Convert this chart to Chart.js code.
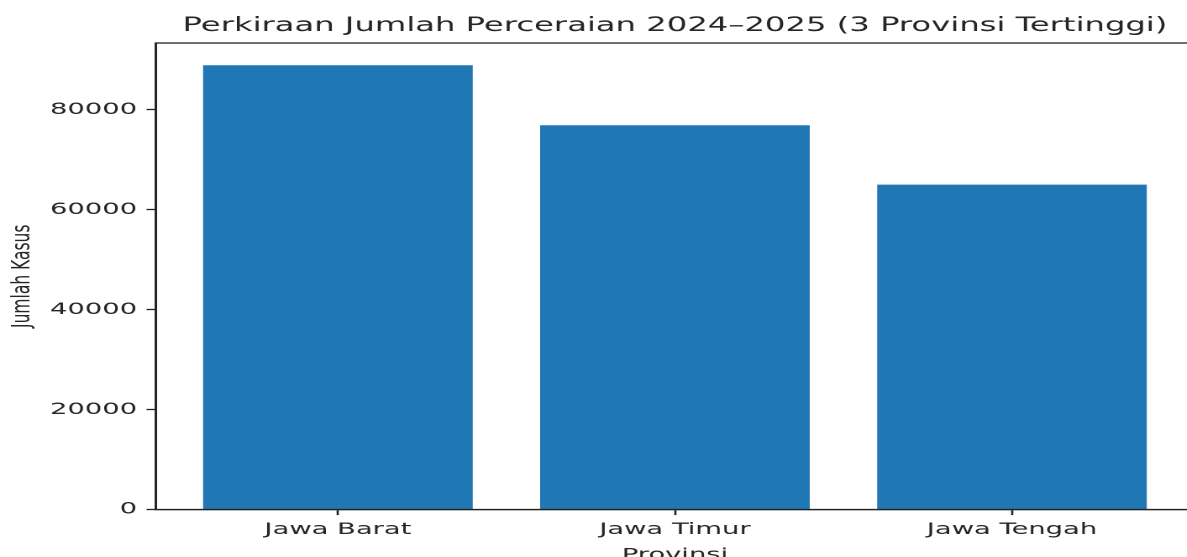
<!DOCTYPE html>
<html>
<head>
<meta charset="utf-8">
<script src="https://cdn.jsdelivr.net/npm/chart.js@4.4.1/dist/chart.umd.min.js"></script>
<style>
  html, body { margin: 0; padding: 0; background: #fff; overflow: hidden; width: 1187px; height: 557px; }
  #wrap { width: 720px; height: 557px; transform: scaleX(1.68); transform-origin: 0 0; }
  canvas { display: block; }
</style>
</head>
<body>
<div id="wrap"><canvas id="c" width="720" height="557"></canvas></div>
<script>
const categories = ["Jawa Barat", "Jawa Timur", "Jawa Tengah"];
const cases = [88900, 76900, 65000];
const yTicks = [0, 20000, 40000, 60000, 80000];
const titleText = "Perkiraan Jumlah Perceraian 2024–2025 (3 Provinsi Tertinggi)";
const xLabel = "Provinsi";
const yLabel = "Jumlah Kasus";

const FONT = "'DejaVu Sans', sans-serif";
const TXT = "#262626";

const frame = {
  id: 'frame',
  afterDatasetsDraw(chart) {
    const a = chart.chartArea, ctx = chart.ctx;
    ctx.save();
    ctx.strokeStyle = "#222";
    ctx.lineWidth = 1.3;
    ctx.strokeRect(a.left, a.top, a.right - a.left, a.bottom - a.top);
    ctx.restore();
  }
};

new Chart(document.getElementById('c'), {
  type: 'bar',
  data: {
    datasets: [{
      data: cases.map((v, i) => ({ x: i, y: v })),
      backgroundColor: '#1f77b4',
      borderWidth: 0,
      barPercentage: 0.8,
      categoryPercentage: 1.0
    }]
  },
  options: {
    responsive: false,
    animation: false,
    devicePixelRatio: 2,
    layout: { padding: { left: 0, right: 9.3, top: 0, bottom: 0 } },
    plugins: {
      legend: { display: false },
      tooltip: { enabled: false },
      title: {
        display: true,
        text: titleText,
        fullSize: false,
        color: TXT,
        font: { family: FONT, size: 19.2, weight: 'normal', lineHeight: 1.2 },
        padding: { top: 14.5, bottom: 5.5 }
      }
    },
    scales: {
      x: {
        type: 'linear',
        offset: false,
        min: -0.54,
        max: 2.54,
        afterBuildTicks: s => { s.ticks = categories.map((_, i) => ({ value: i })); },
        afterFit: s => { s.height = 47.5; },
        ticks: {
          autoSkip: false, maxRotation: 0, minRotation: 0,
          padding: 4.8, color: TXT,
          font: { family: FONT, size: 16.3 },
          callback: v => categories[v]
        },
        grid: { offset: false, drawOnChartArea: false, drawTicks: true, tickLength: 5.6, tickWidth: 1.3, tickColor: '#222' },
        border: { display: true, color: '#222', width: 1.3 },
        title: { display: true, text: xLabel, color: TXT, font: { family: FONT, size: 16.3 }, padding: { top: 0, bottom: -8 } }
      },
      y: {
        min: 0,
        max: Math.max(...cases) * 1.05,
        afterBuildTicks: s => { s.ticks = yTicks.map(v => ({ value: v })); },
        afterFit: s => { s.width = 92.8; },
        ticks: {
          padding: 5.6, color: TXT,
          font: { family: FONT, size: 16.3 },
          callback: v => String(v)
        },
        grid: { drawOnChartArea: false, drawTicks: true, tickLength: 5.6, tickWidth: 1.3, tickColor: '#222' },
        border: { display: true, color: '#222', width: 1.3 },
        title: { display: true, text: yLabel, color: TXT, font: { family: FONT, size: 15.5 }, padding: { top: 4.4, bottom: 0 } }
      }
    }
  },
  plugins: [frame]
});
</script>
</body>
</html>
